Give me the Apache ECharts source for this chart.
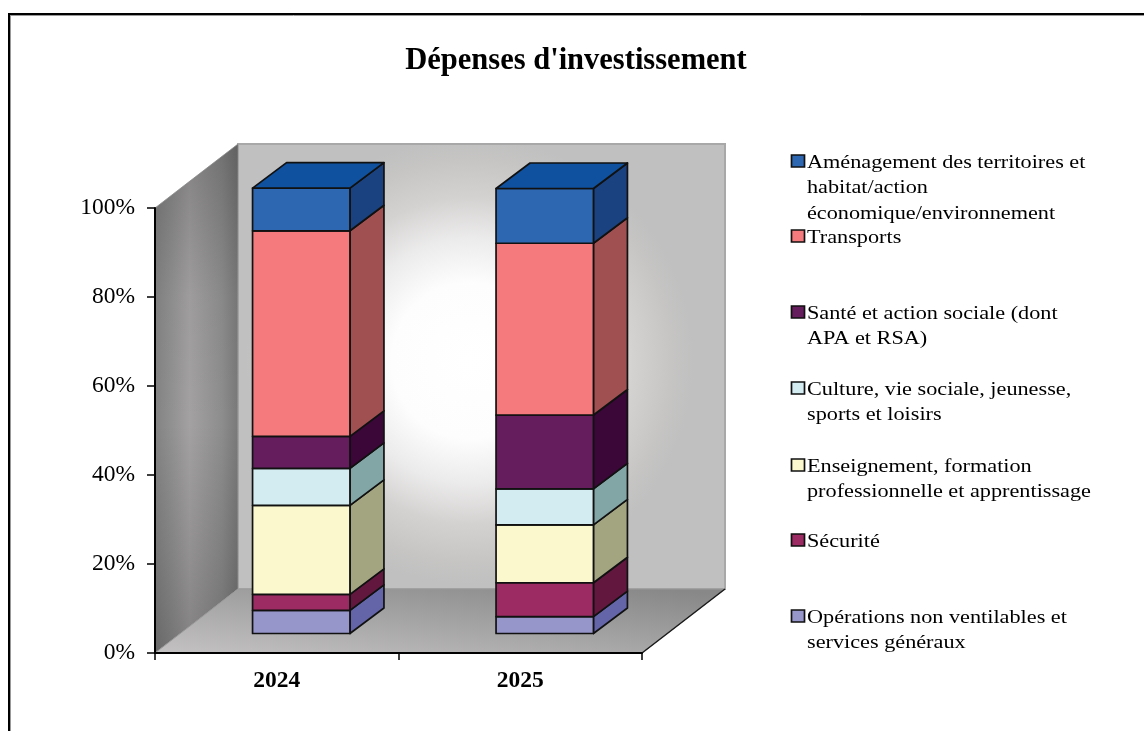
<!DOCTYPE html>
<html><head><meta charset="utf-8">
<style>html,body{margin:0;padding:0;background:#fff}#c{width:1144px;height:731px}</style>
<script src="https://cdn.jsdelivr.net/npm/echarts@6/dist/echarts.min.js"></script>
</head><body><div id="c"></div>
<script>
const categories = ['2024','2025'];
const operations = [5.2, 3.8];
const securite = [3.6, 7.6];
const enseignement = [20.0, 13.0];
const culture = [8.3, 8.1];
const sante = [7.2, 16.6];
const transports = [46.2, 38.6];
const amenagement = [9.6, 12.3];
const seriesNames = [
  'Opérations non ventilables et\nservices généraux',
  'Sécurité',
  'Enseignement, formation\nprofessionnelle et apprentissage',
  'Culture, vie sociale, jeunesse,\nsports et loisirs',
  'Santé et action sociale (dont\nAPA et RSA)',
  'Transports',
  'Aménagement des territoires et\nhabitat/action\néconomique/environnement'
];
const seriesValues = [operations, securite, enseignement, culture, sante, transports, amenagement];
const frontColors = ['#9796cb','#9c2b63','#fcf8cd','#d3ecf1','#661d5e','#f47a7d','#2e67b1'];
const sideColors  = ['#6464a8','#62183e','#a3a580','#82a5a6','#3b0638','#a05050','#1a4280'];
const topColor = '#0f519f';
const legendY = [616,540,465,388,312,236,161];

const FONT = '"Liberation Serif","Times New Roman",serif';
const WALL = [83,-64], SHIFT = [24.5,-19.5], DEPTH = [34,-25.5];

function poly(points, style, z2){
  return {type:'polygon', shape:{points}, style, z2:z2||0};
}
function renderWalls(params){
  const c = params.coordSys, x0=c.x, y0=c.y, x1=c.x+c.width, y1=c.y+c.height;
  const dx=WALL[0], dy=WALL[1];
  const leftWall=[[x0,y0],[x0+dx,y0+dy],[x0+dx,y1+dy],[x0,y1]];
  return {type:'group', children:[
    poly([[x0+dx,y0+dy],[x1+dx,y0+dy],[x1+dx,y1+dy],[x0+dx,y1+dy]],{
      fill:{type:'radial',x:0.476,y:0.487,r:0.5,colorStops:[
        {offset:0,color:'#ffffff'},{offset:0.35,color:'#fdfdfd'},{offset:0.55,color:'#ecebeb'},
        {offset:0.73,color:'#d4d2d1'},{offset:0.9,color:'#c6c5c4'},{offset:1,color:'#c0c0c0'}]},
      stroke:'#a8a8a8',lineWidth:2}),
    poly(leftWall,{
      fill:{type:'linear',x:0,y:0,x2:1,y2:0,colorStops:[
        {offset:0,color:'#828282'},{offset:0.42,color:'#a3a1a1'},{offset:0.8,color:'#8e8d8d'},{offset:1,color:'#787878'}]},
      stroke:'#a0a0a0',lineWidth:1}),
    poly(leftWall,{
      fill:{type:'linear',x:0,y:0,x2:0,y2:1,colorStops:[
        {offset:0,color:'rgba(0,0,0,0.2)'},{offset:0.3,color:'rgba(0,0,0,0.03)'},{offset:0.55,color:'rgba(0,0,0,0)'},
        {offset:0.8,color:'rgba(0,0,0,0.1)'},{offset:1,color:'rgba(0,0,0,0.2)'}]}}),
    poly([[x0,y1],[x1,y1],[x1+dx,y1+dy],[x0+dx,y1+dy]],{
      fill:{type:'linear',x:0,y:1,x2:0.0216,y2:-0.797,colorStops:[
        {offset:0,color:'#c4c2c2'},{offset:1,color:'#888888'}]},
      stroke:'#9a9a9a',lineWidth:1}),
    {type:'line',shape:{x1:x1,y1:y1,x2:x1+dx,y2:y1+dy},style:{stroke:'#1a1a1a',lineWidth:1.5}}
  ]};
}
function makeRender(si){
  const front=frontColors[si], side=sideColors[si], isTop=si===seriesValues.length-1;
  return function(params, api){
    const cat=api.value(0), lo=api.coord([cat,api.value(1)]), hi=api.coord([cat,api.value(2)]);
    const w=api.size([1,0])[0]*0.4;
    const xL=lo[0]-w/2+SHIFT[0], xR=xL+w, yB=lo[1]+SHIFT[1], yT=hi[1]+SHIFT[1];
    const dx=DEPTH[0], dy=DEPTH[1], line={stroke:'#111',lineWidth:1.7,lineJoin:'round'};
    const kids=[
      poly([[xR,yT],[xR+dx,yT+dy],[xR+dx,yB+dy],[xR,yB]],Object.assign({fill:side},line)),
      poly([[xL,yT],[xR,yT],[xR,yB],[xL,yB]],Object.assign({fill:front},line))
    ];
    if(isTop) kids.push(poly([[xL,yT],[xL+dx,yT+dy],[xR+dx,yT+dy],[xR,yT]],Object.assign({fill:topColor},line)));
    return {type:'group',children:kids};
  };
}
const bases = categories.map(()=>0);
const barSeries = seriesValues.map((vals,si)=>{
  const data = vals.map((v,ci)=>{const row=[ci,bases[ci],bases[ci]+v]; bases[ci]+=v; return row;});
  return {type:'custom',name:seriesNames[si],data,z:3,clip:false,silent:true,
    encode:{x:0,y:2},renderItem:makeRender(si)};
});
const legendEls=[];
seriesNames.forEach((n,i)=>{
  legendEls.push({type:'rect',shape:{x:791.5,y:legendY[i]-6,width:13,height:12},
    style:{fill:frontColors[i],stroke:'#111',lineWidth:1.7},silent:true});
  legendEls.push({type:'text',x:807,y:legendY[i]-11,scaleX:1.17,silent:true,
    style:{text:n,font:'19px '+FONT,fill:'#000',lineHeight:25.5,textVerticalAlign:'top'}});
});
// chart-area frame: only the top and left edges fall inside the picture
legendEls.push({type:'line',shape:{x1:9,y1:14,x2:1144,y2:14},style:{stroke:'#000',lineWidth:2},silent:true});
legendEls.push({type:'line',shape:{x1:9,y1:13,x2:9,y2:731},style:{stroke:'#000',lineWidth:2},silent:true});
legendEls.push({type:'line',shape:{x1:10,y1:15.5,x2:1144,y2:15.5},style:{stroke:'#999',lineWidth:1},silent:true});
legendEls.push({type:'line',shape:{x1:10.5,y1:15,x2:10.5,y2:731},style:{stroke:'#999',lineWidth:1},silent:true});

const chart = echarts.init(document.getElementById('c'),null,{renderer:'canvas'});
chart.setOption({
  animation:false,
  backgroundColor:'#fff',
  title:{text:"Dépenses d'investissement",left:571,top:41,textAlign:'center',
    textStyle:{fontFamily:FONT,fontWeight:'bold',fontSize:30.5,color:'#000'}},
  grid:{left:155,top:208,width:487,height:445},
  xAxis:{type:'category',data:categories,z:6,
    axisLine:{lineStyle:{color:'#000',width:2}},
    axisTick:{show:true,length:7,lineStyle:{color:'#000',width:1.5},alignWithLabel:false},
    axisLabel:{fontFamily:FONT,fontWeight:'bold',fontSize:23.5,color:'#000',margin:16}},
  yAxis:{type:'value',min:0,max:100,interval:20,z:6,
    axisLine:{show:true,lineStyle:{color:'#000',width:2}},
    axisTick:{show:true,length:8,lineStyle:{color:'#000',width:1.5}},
    splitLine:{show:false},
    axisLabel:{formatter:'{value}%',fontFamily:FONT,fontSize:23.5,color:'#000',margin:20,padding:[3,0,0,0]}},
  series:[{type:'custom',data:[[0,0]],silent:true,z:1,clip:false,encode:{x:0,y:1},renderItem:renderWalls}].concat(barSeries),
  graphic:legendEls
});
</script></body></html>
